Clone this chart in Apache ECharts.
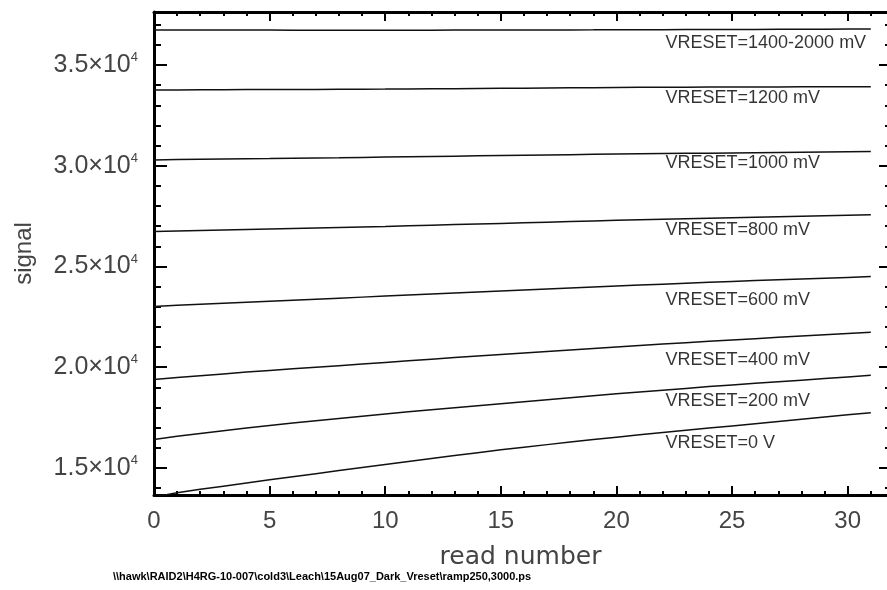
<!DOCTYPE html>
<html>
<head>
<meta charset="utf-8">
<script src="https://cdn.jsdelivr.net/npm/echarts@6/dist/echarts.min.js"></script>
<style>html,body{margin:0;padding:0;background:#fff}#c{width:887px;height:590px}</style>
</head>
<body>
<div id="c"></div>
<script>
const reads = [0,1,2,3,4,5,6,7,8,9,10,11,12,13,14,15,16,17,18,19,20,21,22,23,24,25,26,27,28,29,30,31];
const v1400 = [36735,36735,36734,36733,36732,36731,36730,36729,36728,36728,36728,36729,36730,36732,36734,36736,36738,36740,36742,36744,36747,36750,36753,36756,36759,36762,36765,36770,36774,36778,36781,36784];
const v1200 = [33760,33765,33770,33774,33778,33782,33786,33790,33794,33798,33803,33810,33818,33826,33834,33842,33850,33858,33866,33874,33882,33890,33894,33898,33902,33906,33910,33913,33916,33919,33922,33925];
const v1000 = [30290,30305,30320,30335,30350,30360,30375,30390,30400,30415,30430,30445,30460,30475,30490,30505,30520,30535,30550,30565,30578,30590,30602,30614,30626,30638,30650,30662,30674,30686,30695,30705];
const v800 = [26740,26765,26790,26815,26840,26865,26890,26915,26940,26965,26990,27020,27050,27080,27110,27140,27170,27200,27230,27260,27290,27320,27345,27370,27395,27420,27445,27470,27495,27520,27545,27570];
const v600 = [23020,23075,23130,23180,23230,23280,23330,23380,23430,23480,23530,23580,23630,23680,23730,23780,23830,23880,23930,23980,24030,24080,24125,24170,24215,24260,24300,24340,24380,24420,24460,24500];
const v400 = [19390,19490,19580,19670,19760,19840,19920,20000,20080,20160,20240,20320,20400,20480,20555,20630,20705,20780,20855,20930,21005,21080,21150,21220,21290,21355,21420,21485,21550,21615,21680,21740];
const v200 = [16420,16570,16710,16850,16980,17110,17230,17350,17460,17570,17680,17790,17890,17990,18090,18190,18290,18390,18490,18590,18680,18770,18860,18950,19040,19120,19200,19280,19360,19440,19520,19600];
const v0 = [13560,13770,13940,14100,14260,14420,14570,14720,14870,15020,15170,15320,15470,15620,15760,15900,16030,16160,16290,16410,16530,16650,16760,16870,16980,17090,17200,17310,17420,17530,17640,17740];

const labelTexts = ['VRESET=1400-2000 mV','VRESET=1200 mV','VRESET=1000 mV','VRESET=800 mV','VRESET=600 mV','VRESET=400 mV','VRESET=200 mV','VRESET=0 V'];
const labelX = [22.1,22.1,22.1,22.1,22.1,22.1,22.1,22.1];
const labelY = [36090,33360,30140,26810,23340,20360,18340,16260];

const xMajor = [0,5,10,15,20,25,30];
const xMinor = [1,2,3,4,6,7,8,9,11,12,13,14,16,17,18,19,21,22,23,24,26,27,28,29,31];
const yMajor = [15000,20000,25000,30000,35000];
const yMinor = [14000,16000,17000,18000,19000,21000,22000,23000,24000,26000,27000,28000,29000,31000,32000,33000,34000,36000,37000];

const footer = '\\\\hawk\\RAID2\\H4RG-10-007\\cold3\\Leach\\15Aug07_Dark_Vreset\\ramp250,3000.ps';

const FF = '"Liberation Sans", Arial, sans-serif';
const XMIN = 0, XMAX = 31.7, YMIN = 13660, YMAX = 37630;

function xAx(pos, ticks, len, line, labels) {
  const a = {
    type: 'value', position: pos, min: XMIN, max: XMAX,
    axisLine: {show: line, onZero: false, lineStyle: {color: '#000', width: 3}},
    axisTick: {show: true, inside: true, length: len, customValues: ticks, lineStyle: {color: '#000', width: 2}},
    axisLabel: {show: false},
    splitLine: {show: false}
  };
  if (labels) {
    a.axisLabel = {show: true, customValues: ticks, fontSize: 24, color: '#444', margin: 14, fontFamily: FF};
    a.name = 'read number';
    a.nameLocation = 'middle';
    a.nameGap = 50;
    a.nameTextStyle = {fontSize: 25, color: '#444', fontFamily: '"DejaVu Sans", sans-serif'};
  }
  return a;
}
function yAx(pos, ticks, len, line, labels) {
  const a = {
    type: 'value', position: pos, min: YMIN, max: YMAX,
    axisLine: {show: line, onZero: false, lineStyle: {color: '#000', width: 3}},
    axisTick: {show: true, inside: true, length: len, customValues: ticks, lineStyle: {color: '#000', width: 2}},
    axisLabel: {show: false},
    splitLine: {show: false}
  };
  if (labels) {
    a.axisLabel = {
      show: true, customValues: ticks, margin: 16,
      formatter: v => '{b|' + (v / 10000).toFixed(1) + '×10}{s|4}',
      rich: {
        b: {fontSize: 25, color: '#444', fontFamily: FF, lineHeight: 28},
        s: {fontSize: 13, color: '#444', fontFamily: FF, verticalAlign: 'top', lineHeight: 16}
      }
    };
    a.name = 'signal';
    a.nameLocation = 'middle';
    a.nameRotate = 90;
    a.nameGap = 118;
    a.nameTextStyle = {fontSize: 24, color: '#444', fontFamily: FF};
  }
  return a;
}

const seriesVals = [v1400, v1200, v1000, v800, v600, v400, v200, v0];
const series = seriesVals.map(vals => ({
  type: 'line', xAxisIndex: 0, yAxisIndex: 0, symbol: 'none', silent: true,
  clip: true,
  lineStyle: {color: '#111', width: 1.5},
  data: reads.map((r, i) => [r, vals[i]])
}));
series.push({
  type: 'scatter', xAxisIndex: 0, yAxisIndex: 0, symbolSize: 1, silent: true,
  itemStyle: {color: 'rgba(0,0,0,0)'},
  label: {show: true, position: 'right', distance: 0, formatter: p => p.data[2],
    fontSize: 18, color: '#000', fontFamily: FF, align: 'left', verticalAlign: 'middle'},
  data: labelTexts.map((t, i) => [labelX[i], labelY[i], t])
});

const chart = echarts.init(document.getElementById('c'), null, {renderer: 'canvas'});
chart.setOption({
  animation: false,
  backgroundColor: '#fff',
  grid: {left: 154, right: 0, top: 12, bottom: 95, containLabel: false},
  xAxis: [
    xAx('bottom', xMajor, 9, true, true),
    xAx('bottom', xMinor, 4, false, false),
    xAx('top', xMajor, 9, true, false),
    xAx('top', xMinor, 4, false, false)
  ],
  yAxis: [
    yAx('left', yMajor, 13, true, true),
    yAx('left', yMinor, 7, false, false),
    yAx('right', yMajor, 8, false, false),
    yAx('right', yMinor, 2, false, false)
  ],
  series: series,
  graphic: [{
    type: 'text', left: 113, top: 571,
    style: {text: footer, font: 'bold 11px "Liberation Sans", Arial, sans-serif', fill: '#000'}
  }]
});
</script>
</body>
</html>
